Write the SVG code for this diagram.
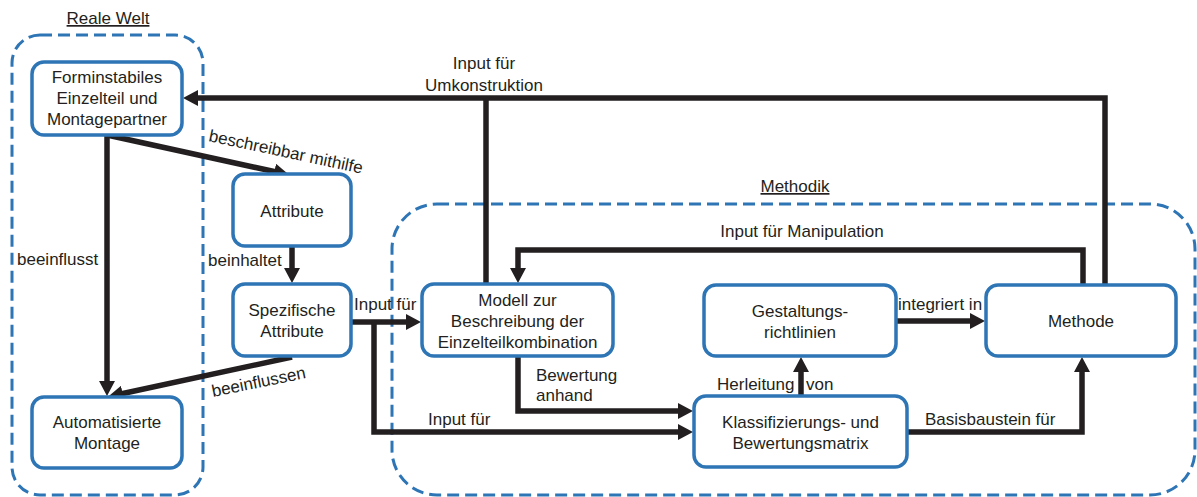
<svg xmlns="http://www.w3.org/2000/svg" width="1197" height="497" viewBox="0 0 1197 497">
  <style>
    text { font-family: "Liberation Sans", Arial, sans-serif; font-size: 17px; fill: #231F20; }
    .c { text-anchor: middle; }
    .title { text-decoration: underline; }
    .region { fill: none; stroke: #2E75B6; stroke-width: 3; stroke-dasharray: 12 6; }
    .box { fill: #FFFFFF; stroke: #2E75B6; stroke-width: 3.5; }
    .conn { fill: none; stroke: #231F20; stroke-width: 5.5; stroke-linejoin: miter; }
  </style>
  <defs>
    <marker id="arrow" markerUnits="userSpaceOnUse" markerWidth="16" markerHeight="16" refX="1" refY="8" orient="auto">
      <path d="M0,0 L15,8 L0,16 Z" fill="#231F20"/>
    </marker>
  </defs>

  <!-- Regions -->
  <g id="region-reale-welt">
    <rect class="region" x="12" y="35" width="191" height="460" rx="28"/>
    <text class="c title" x="108" y="24">Reale Welt</text>
  </g>
  <g id="region-methodik">
    <rect class="region" x="392" y="204" width="803" height="291" rx="45"/>
    <text class="c title" x="795" y="192">Methodik</text>
  </g>

  <!-- Connectors -->
  <g id="connectors">
    <!-- Methode / Modell -> Forminstabiles Einzelteil -->
    <path class="conn" d="M1105,285 V98 H197" marker-end="url(#arrow)"/>
    <path class="conn" d="M486,284 V98"/>
    <text class="c" x="484" y="69">Input für</text>
    <text class="c" x="484" y="91">Umkonstruktion</text>

    <!-- Methode -> Modell -->
    <path class="conn" d="M1083,285 V250 H518 V269" marker-end="url(#arrow)"/>
    <text class="c" x="802" y="237">Input für Manipulation</text>

    <!-- Forminstabiles -> Attribute -->
    <path class="conn" d="M107,135 L275.3,171.8" marker-end="url(#arrow)"/>
    <text transform="translate(208,141) rotate(12)">beschreibbar mithilfe</text>

    <!-- Forminstabiles -> Automatisierte Montage -->
    <path class="conn" d="M107,135 V382" marker-end="url(#arrow)"/>
    <text x="17" y="265">beeinflusst</text>

    <!-- Attribute -> Spezifische Attribute -->
    <path class="conn" d="M292,247 V269" marker-end="url(#arrow)"/>
    <text x="208" y="266">beinhaltet</text>

    <!-- Spezifische Attribute -> Automatisierte Montage -->
    <path class="conn" d="M292,357 L121.7,393.8" marker-end="url(#arrow)"/>
    <text transform="translate(213,397) rotate(-11.5)">beeinflussen</text>

    <!-- Spezifische Attribute -> Modell -->
    <path class="conn" d="M352,322 H407" marker-end="url(#arrow)"/>
    <text x="354" y="310">Input für</text>

    <!-- Spezifische Attribute -> Klassifizierungsmatrix -->
    <path class="conn" d="M374,322 V432 H679" marker-end="url(#arrow)"/>
    <text x="428" y="425">Input für</text>

    <!-- Modell -> Klassifizierungsmatrix -->
    <path class="conn" d="M518,357 V411 H679" marker-end="url(#arrow)"/>
    <text x="536" y="381">Bewertung</text>
    <text x="536" y="401">anhand</text>

    <!-- Klassifizierungsmatrix -> Gestaltungsrichtlinien -->
    <path class="conn" d="M801,396 V371" marker-end="url(#arrow)"/>
    <text x="717" y="390">Herleitung <tspan x="806">von</tspan></text>

    <!-- Gestaltungsrichtlinien -> Methode -->
    <path class="conn" d="M896,321 H971" marker-end="url(#arrow)"/>
    <text x="898" y="310">integriert in</text>

    <!-- Klassifizierungsmatrix -> Methode -->
    <path class="conn" d="M907,432 H1082 V371" marker-end="url(#arrow)"/>
    <text x="925" y="425">Basisbaustein für</text>
  </g>

  <!-- Nodes -->
  <g id="node-forminstabiles">
    <rect class="box" x="32" y="62" width="150" height="73" rx="12"/>
    <text class="c" x="107" y="83">Forminstabiles</text>
    <text class="c" x="107" y="104">Einzelteil und</text>
    <text class="c" x="107" y="125">Montagepartner</text>
  </g>
  <g id="node-automatisierte-montage">
    <rect class="box" x="32" y="397" width="150" height="71" rx="12"/>
    <text class="c" x="107" y="428">Automatisierte</text>
    <text class="c" x="107" y="449">Montage</text>
  </g>
  <g id="node-attribute">
    <rect class="box" x="233" y="174" width="118" height="72" rx="12"/>
    <text class="c" x="292" y="217">Attribute</text>
  </g>
  <g id="node-spezifische-attribute">
    <rect class="box" x="233" y="284" width="118" height="72" rx="12"/>
    <text class="c" x="292" y="316">Spezifische</text>
    <text class="c" x="292" y="337">Attribute</text>
  </g>
  <g id="node-modell">
    <rect class="box" x="422" y="284" width="191" height="72" rx="12"/>
    <text class="c" x="517.5" y="306">Modell zur</text>
    <text class="c" x="517.5" y="327">Beschreibung der</text>
    <text class="c" x="517.5" y="348">Einzelteilkombination</text>
  </g>
  <g id="node-gestaltungsrichtlinien">
    <rect class="box" x="704" y="285" width="192" height="71" rx="12"/>
    <text class="c" x="800" y="317">Gestaltungs-</text>
    <text class="c" x="800" y="338">richtlinien</text>
  </g>
  <g id="node-klassifizierungsmatrix">
    <rect class="box" x="694" y="396" width="213" height="71" rx="12"/>
    <text class="c" x="800.5" y="428">Klassifizierungs- und</text>
    <text class="c" x="800.5" y="449">Bewertungsmatrix</text>
  </g>
  <g id="node-methode">
    <rect class="box" x="986" y="285" width="190" height="71" rx="12"/>
    <text class="c" x="1081" y="327">Methode</text>
  </g>
</svg>
